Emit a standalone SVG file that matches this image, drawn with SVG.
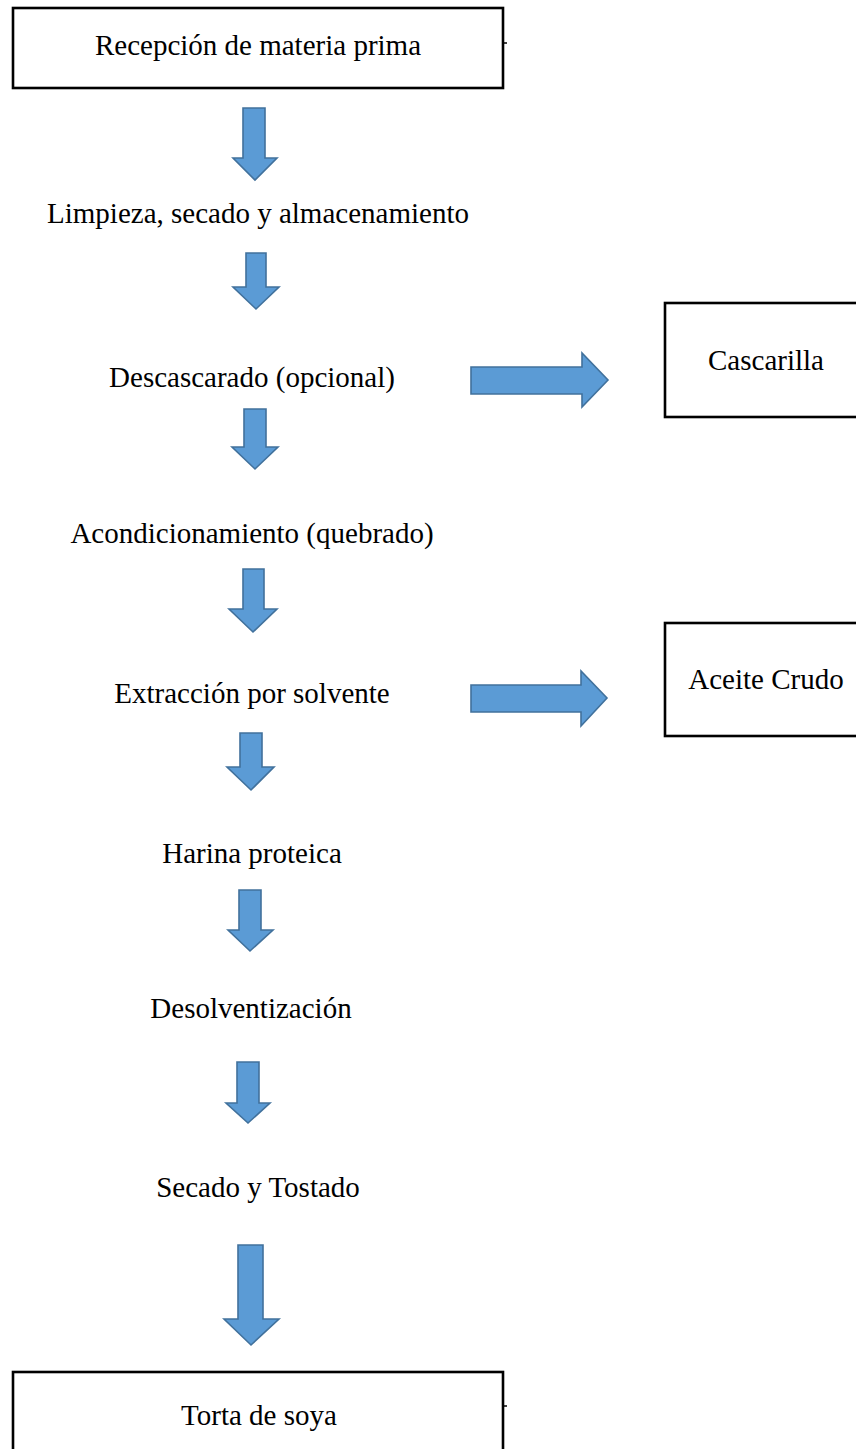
<svg xmlns="http://www.w3.org/2000/svg" width="856" height="1449" viewBox="0 0 856 1449">
<style>
.box{fill:#fff;stroke:#000;stroke-width:2.6}
.t{font-family:"Liberation Serif","Times New Roman",serif;font-size:29px;fill:#000;text-anchor:middle}
.arr{fill:#5B9BD5;stroke:#41719C;stroke-width:1.6;stroke-linejoin:miter}
</style>
<rect width="856" height="1449" fill="#fff"/>
<g id="connectors">
<polygon class="arr" points="243,108 265,108 265,158 277,158 255,180 233,158 243,158"/>
<polygon class="arr" points="246,253 266,253 266,287 279,287 256,309 233,287 246,287"/>
<polygon class="arr" points="244,409 266,409 266,447 278,447 255,469 232,447 244,447"/>
<polygon class="arr" points="243,569 264,569 264,609 277,609 253,632 229,609 243,609"/>
<polygon class="arr" points="240,733 262,733 262,767 274,767 251,790 227,767 240,767"/>
<polygon class="arr" points="239,890 261,890 261,930 273,930 250,951 228,930 239,930"/>
<polygon class="arr" points="237,1062 259,1062 259,1103 270,1103 248,1123 226,1103 237,1103"/>
<polygon class="arr" points="238,1245 263,1245 263,1319 279,1319 251,1345 224,1319 238,1319"/>
<polygon class="arr" points="471,367 582,367 582,353 608,380 582,407 582,394 471,394"/>
<polygon class="arr" points="471,685 581,685 581,671 607,698 581,726 581,712 471,712"/>
</g>
<g id="n1">
<rect class="box" x="13" y="8" width="490" height="80"/>
<line x1="503" y1="43" x2="507" y2="43" stroke="#000" stroke-width="1.5"/>
<text class="t" x="258" y="55">Recepción de materia prima</text>
</g>
<g id="n2"><text class="t" x="258" y="223">Limpieza, secado y almacenamiento</text></g>
<g id="n3"><text class="t" x="252" y="387">Descascarado (opcional)</text></g>
<g id="n4"><text class="t" x="252" y="543">Acondicionamiento (quebrado)</text></g>
<g id="n5"><text class="t" x="252" y="703">Extracción por solvente</text></g>
<g id="n6"><text class="t" x="252" y="863">Harina proteica</text></g>
<g id="n7"><text class="t" x="251" y="1018">Desolventización</text></g>
<g id="n8"><text class="t" x="258" y="1197">Secado y Tostado</text></g>
<g id="n9">
<rect class="box" x="13" y="1372" width="490" height="100"/>
<line x1="503" y1="1406" x2="507" y2="1406" stroke="#000" stroke-width="1.5"/>
<text class="t" x="259" y="1425">Torta de soya</text>
</g>
<g id="n10">
<rect class="box" x="665" y="303" width="200" height="114"/>
<text class="t" x="766" y="370">Cascarilla</text>
</g>
<g id="n11">
<rect class="box" x="665" y="623" width="200" height="113"/>
<text class="t" x="766" y="689">Aceite Crudo</text>
</g>
</svg>
